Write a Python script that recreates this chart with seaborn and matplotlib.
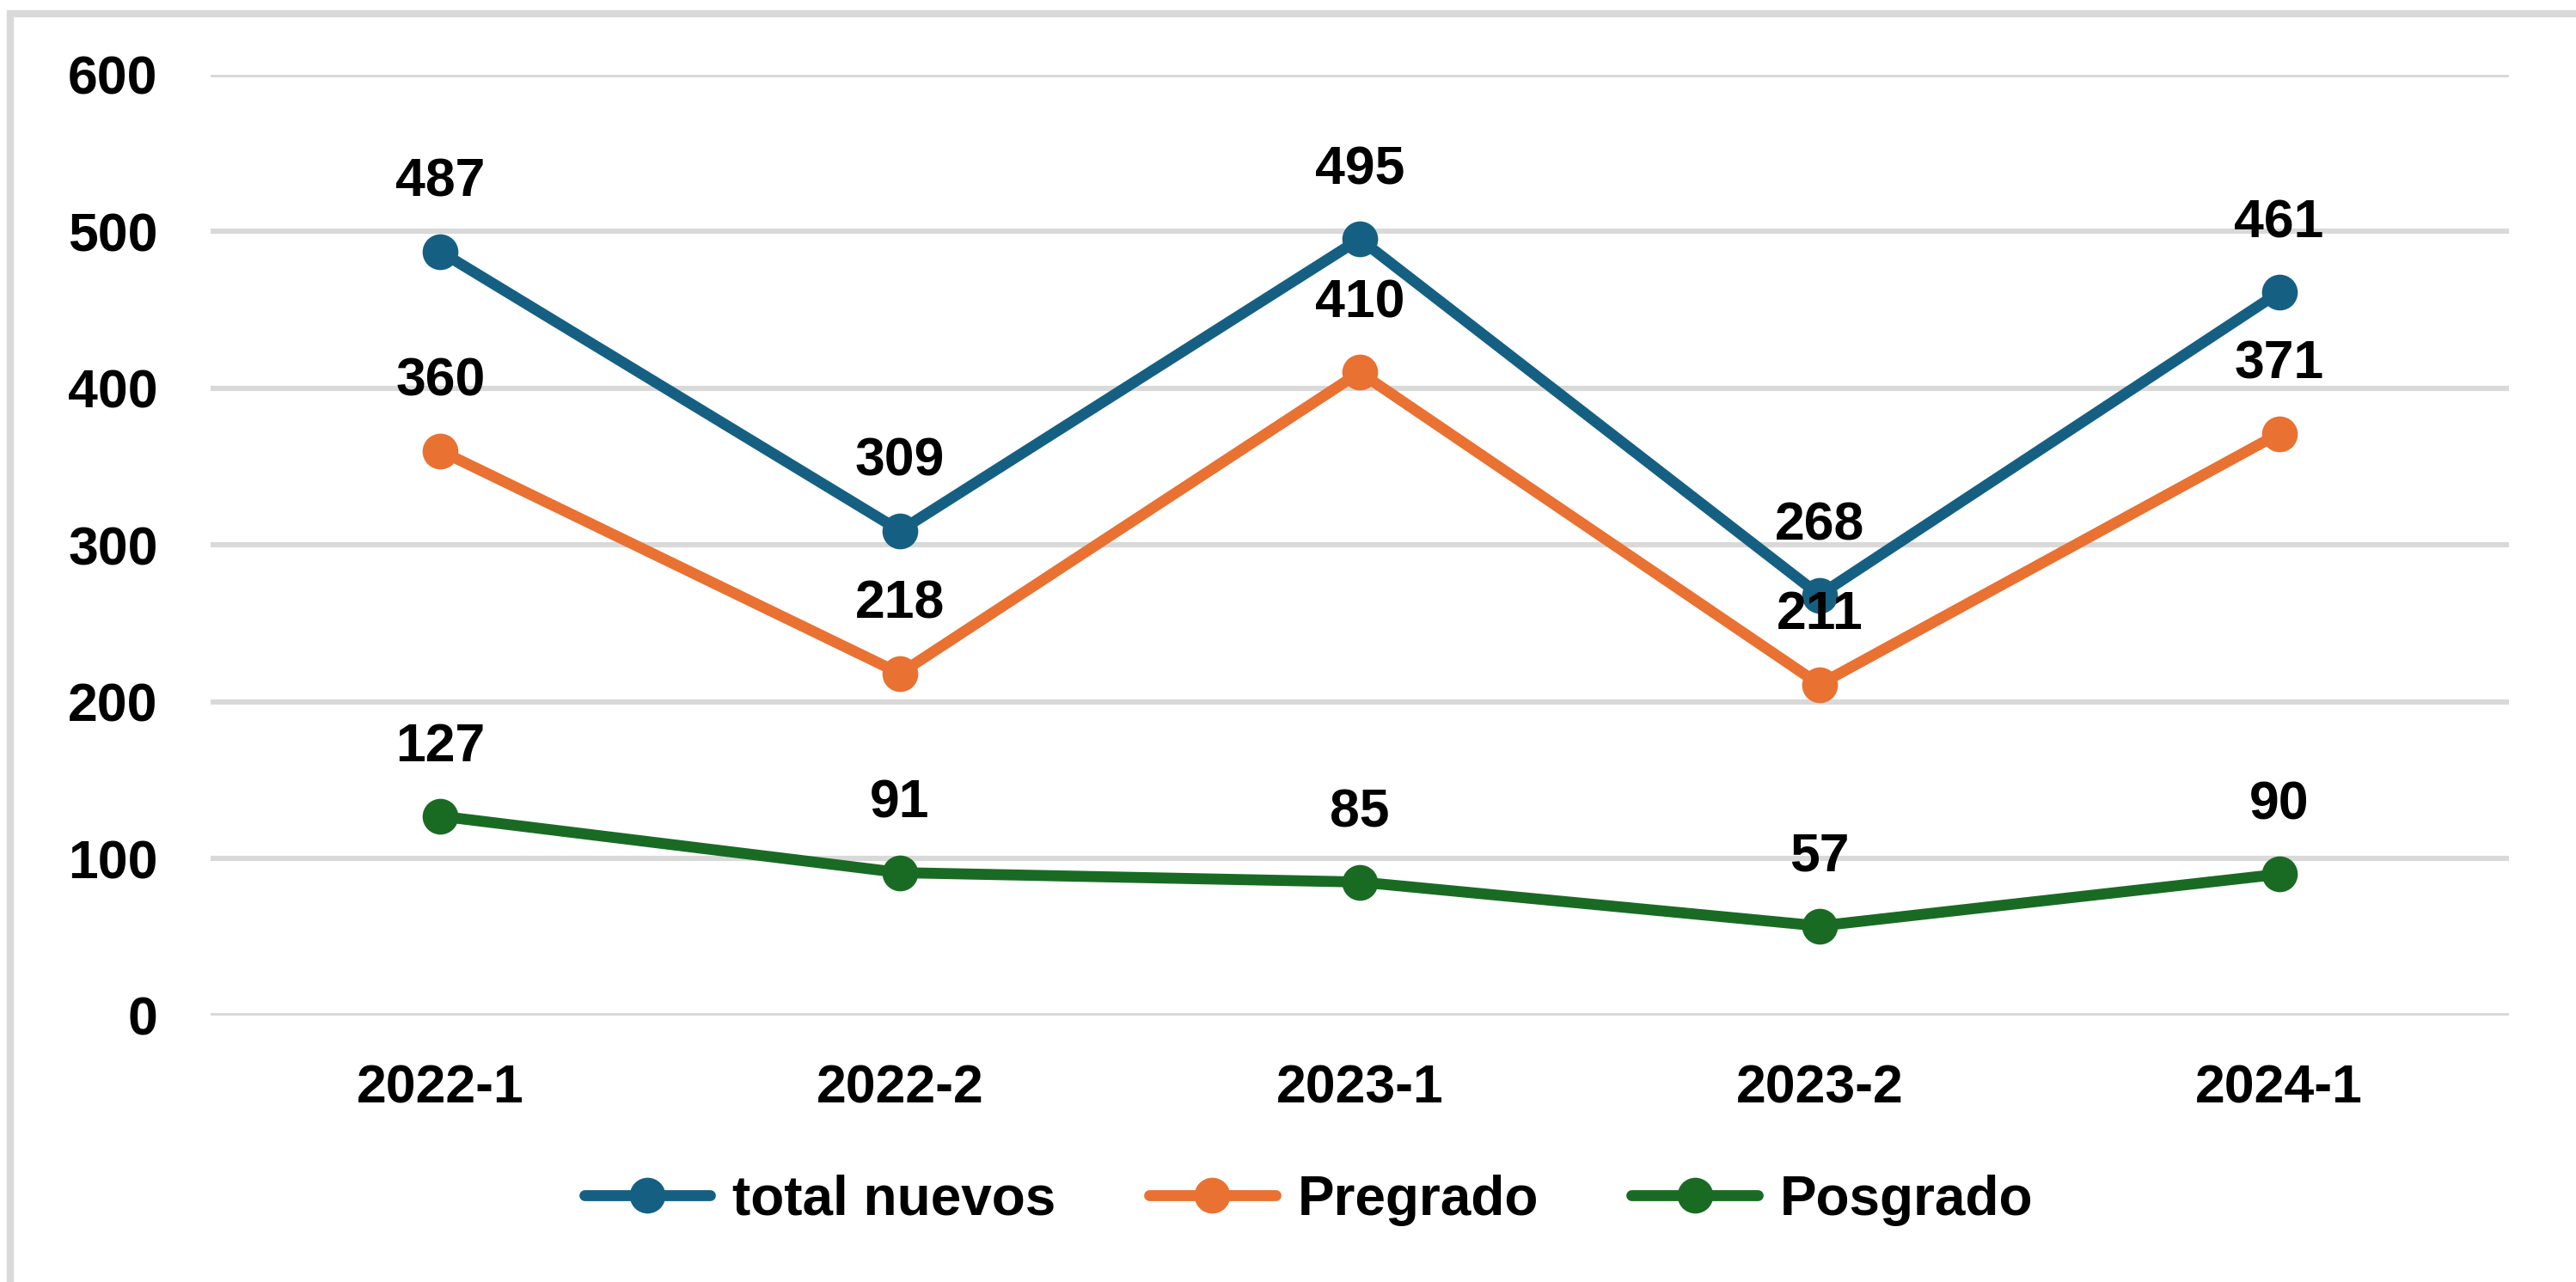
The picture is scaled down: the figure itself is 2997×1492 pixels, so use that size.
import pandas as pd
import matplotlib.pyplot as plt
import seaborn as sns
from matplotlib.lines import Line2D
from matplotlib.patches import Rectangle

#%% Datos

periodos = ['2022-1', '2022-2', '2023-1', '2023-2', '2024-1']
total_nuevos = [487, 309, 495, 268, 461]
pregrado = [360, 218, 410, 211, 371]
posgrado = [127, 91, 85, 57, 90]

series = ['total nuevos', 'Pregrado', 'Posgrado']
colores = ['#156082', '#E97132', '#196B24']
y_ticks = [0, 100, 200, 300, 400, 500, 600]

dados = pd.DataFrame({
    'periodo': periodos * 3,
    'valor': total_nuevos + pregrado + posgrado,
    'serie': [s for s in series for _ in periodos],
})

#%% Gráfico

sns.set_style('white')
plt.rcParams['font.family'] = ['Liberation Sans', 'DejaVu Sans']
plt.rcParams['font.weight'] = 'bold'
plt.rcParams['text.color'] = 'black'

fig = plt.figure(figsize=(14.985, 7.46), dpi=200)
ax = fig.add_axes([0.0817, 0.208, 0.8923, 0.734])

sns.lineplot(data=dados, x='periodo', y='valor', hue='serie', hue_order=series,
             palette=colores, marker='o', markersize=15, markeredgewidth=0,
             linewidth=4.6, sort=False, legend=False, ax=ax, zorder=3)

# etiquetas de datos
for serie, valores in zip(series, [total_nuevos, pregrado, posgrado]):
    for i, v in enumerate(valores):
        ax.annotate(str(v), (i, v), xytext=(0, 29), textcoords='offset points',
                    ha='center', va='center', fontsize=22.5, fontweight='bold',
                    color='black', zorder=4)

ax.set_xlim(-0.5, len(periodos) - 0.5)
ax.set_ylim(0, 600)
ax.set_yticks(y_ticks)
ax.set_yticklabels([str(t) for t in y_ticks])
ax.yaxis.grid(True, color='#D9D9D9', linewidth=2.2)
ax.set_axisbelow(True)
for s in ax.spines.values():
    s.set_visible(False)
ax.tick_params(axis='both', length=0, labelsize=22.5, labelcolor='black')
ax.tick_params(axis='y', pad=22)
ax.tick_params(axis='x', pad=20)
for lab in ax.get_xticklabels() + ax.get_yticklabels():
    lab.set_fontweight('bold')
ax.set_xlabel('')
ax.set_ylabel('')

# leyenda
handles = [Line2D([0], [0], color=c, linewidth=4.6, marker='o', markersize=15,
                  markeredgewidth=0) for c in colores]
fig.legend(handles, series, loc='center', bbox_to_anchor=(0.508, 0.064),
           ncol=3, frameon=False, handlelength=2.3,
           handletextpad=0.4, columnspacing=1.7, labelcolor='black',
           prop={'weight': 'bold', 'size': 23})

# borde del área del gráfico
fig.add_artist(Rectangle((0.004, -0.05), 1.1, 1.039, transform=fig.transFigure,
                         fill=False, edgecolor='#D9D9D9', linewidth=3, clip_on=False))

fig.savefig('out.png', dpi=200, facecolor='white')
